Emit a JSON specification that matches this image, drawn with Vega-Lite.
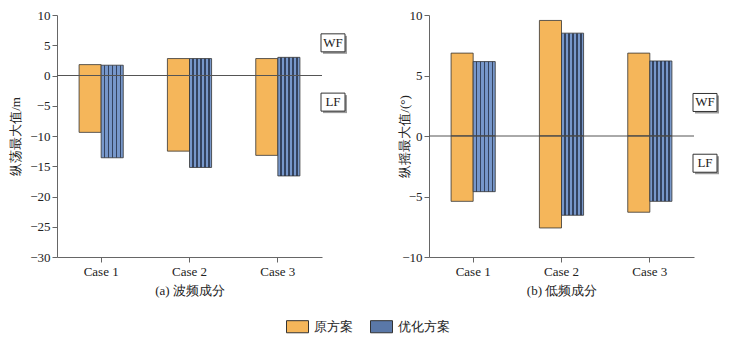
{
  "$schema": "https://vega.github.io/schema/vega-lite/v6.json",
  "padding": {"left": 9, "top": 9, "right": 5, "bottom": 5},
  "background": "white",
  "datasets": {
    "bars": [
      {"panel": "a", "case": "Case 1", "series": "原方案", "comp": "WF", "value": 1.8},
      {"panel": "a", "case": "Case 1", "series": "原方案", "comp": "LF", "value": -9.4},
      {"panel": "a", "case": "Case 1", "series": "优化方案", "comp": "WF", "value": 1.7},
      {"panel": "a", "case": "Case 1", "series": "优化方案", "comp": "LF", "value": -13.6},
      {"panel": "a", "case": "Case 2", "series": "原方案", "comp": "WF", "value": 2.8},
      {"panel": "a", "case": "Case 2", "series": "原方案", "comp": "LF", "value": -12.5},
      {"panel": "a", "case": "Case 2", "series": "优化方案", "comp": "WF", "value": 2.8},
      {"panel": "a", "case": "Case 2", "series": "优化方案", "comp": "LF", "value": -15.2},
      {"panel": "a", "case": "Case 3", "series": "原方案", "comp": "WF", "value": 2.8},
      {"panel": "a", "case": "Case 3", "series": "原方案", "comp": "LF", "value": -13.2},
      {"panel": "a", "case": "Case 3", "series": "优化方案", "comp": "WF", "value": 3.0},
      {"panel": "a", "case": "Case 3", "series": "优化方案", "comp": "LF", "value": -16.6},
      {"panel": "b", "case": "Case 1", "series": "原方案", "comp": "WF", "value": 6.85},
      {"panel": "b", "case": "Case 1", "series": "原方案", "comp": "LF", "value": -5.4},
      {"panel": "b", "case": "Case 1", "series": "优化方案", "comp": "WF", "value": 6.15},
      {"panel": "b", "case": "Case 1", "series": "优化方案", "comp": "LF", "value": -4.6},
      {"panel": "b", "case": "Case 2", "series": "原方案", "comp": "WF", "value": 9.55},
      {"panel": "b", "case": "Case 2", "series": "原方案", "comp": "LF", "value": -7.6},
      {"panel": "b", "case": "Case 2", "series": "优化方案", "comp": "WF", "value": 8.5},
      {"panel": "b", "case": "Case 2", "series": "优化方案", "comp": "LF", "value": -6.55},
      {"panel": "b", "case": "Case 3", "series": "原方案", "comp": "WF", "value": 6.85},
      {"panel": "b", "case": "Case 3", "series": "原方案", "comp": "LF", "value": -6.3},
      {"panel": "b", "case": "Case 3", "series": "优化方案", "comp": "WF", "value": 6.2},
      {"panel": "b", "case": "Case 3", "series": "优化方案", "comp": "LF", "value": -5.4}
    ]
  },
  "config": {
    "font": "Liberation Serif",
    "view": {"stroke": null},
    "concat": {"spacing": 51},
    "axis": {
      "labelFont": "Liberation Serif", "titleFont": "Liberation Serif",
      "labelFontSize": 13, "titleFontSize": 13, "titleFontWeight": "normal",
      "labelColor": "#222", "titleColor": "#222",
      "domainColor": "#666", "tickColor": "#666", "grid": false, "tickSize": 5
    },
    "legend": {
      "labelFont": "Liberation Serif", "labelFontSize": 13, "labelColor": "#222"
    }
  },
  "hconcat": [
    {
      "width": 265, "height": 242,
      "layer": [
        {
          "data": {"name": "bars"},
          "transform": [{"filter": "datum.panel == 'a'"}],
          "mark": {"type": "bar", "stroke": "#333", "strokeWidth": 0.8},
          "encoding": {
            "x": {"field": "case", "type": "nominal", "scale": {"paddingInner": 0.5, "paddingOuter": 0.25},
                  "axis": {"title": "(a) 波频成分", "labelAngle": 0, "labelPadding": 3, "titlePadding": 6}},
            "xOffset": {"field": "series", "type": "nominal", "sort": ["原方案", "优化方案"], "scale": {"paddingInner": 0, "paddingOuter": 0}},
            "y": {"field": "value", "type": "quantitative", "stack": null,
                  "scale": {"domain": [-30, 10], "nice": false},
                  "axis": {"title": "纵荡最大值/m", "values": [-30, -25, -20, -15, -10, -5, 0, 5, 10], "titlePadding": 7}},
            "color": {"field": "series", "type": "nominal",
                      "condition": {"test": "datum.series === '优化方案'", "value": {"gradient": "linear", "x1": 0, "y1": 0, "x2": 1, "y2": 0, "stops": [
                                  {"offset": 0, "color": "#7797CA"}, {"offset": 0.1127, "color": "#7797CA"}, {"offset": 0.1127, "color": "#34435F"}, {"offset": 0.1818, "color": "#34435F"},
                                  {"offset": 0.1818, "color": "#7797CA"}, {"offset": 0.2945, "color": "#7797CA"}, {"offset": 0.2945, "color": "#34435F"}, {"offset": 0.3636, "color": "#34435F"},
                                  {"offset": 0.3636, "color": "#7797CA"}, {"offset": 0.4764, "color": "#7797CA"}, {"offset": 0.4764, "color": "#34435F"}, {"offset": 0.5455, "color": "#34435F"},
                                  {"offset": 0.5455, "color": "#7797CA"}, {"offset": 0.6582, "color": "#7797CA"}, {"offset": 0.6582, "color": "#34435F"}, {"offset": 0.7273, "color": "#34435F"},
                                  {"offset": 0.7273, "color": "#7797CA"}, {"offset": 0.84, "color": "#7797CA"}, {"offset": 0.84, "color": "#34435F"}, {"offset": 0.9091, "color": "#34435F"},
                                  {"offset": 0.9091, "color": "#7797CA"}, {"offset": 1, "color": "#7797CA"}]}},
                      "scale": {"domain": ["原方案", "优化方案"], "range": ["#F5B65A", "#5A78A8"]},
                      "legend": {"title": null, "orient": "none", "legendX": 229, "legendY": 300, "direction": "horizontal",
                                 "symbolType": "M-1,-0.55H1V0.55H-1Z", "symbolSize": 484,
                                 "symbolStrokeColor": "#333", "symbolStrokeWidth": 1, "symbolOpacity": 1,
                                 "columnPadding": 15, "labelOffset": 5}}
          }
        },
        {
          "data": {"values": [{}]},
          "mark": {"type": "rule", "color": "#555", "strokeWidth": 1},
          "encoding": {"y": {"datum": 0, "type": "quantitative",
                             "axis": {"title": "纵荡最大值/m", "values": [-30, -25, -20, -15, -10, -5, 0, 5, 10], "titlePadding": 7}}}
        },
        {
          "data": {"values": [{"label": "WF", "v": 5.4}, {"label": "LF", "v": -4.4}]},
          "layer": [
            {"mark": {"type": "point", "shape": "M-1.2,-0.9H1.2V0.9H-1.2Z", "size": 400, "filled": true, "fill": "#9a9a9a", "strokeWidth": 0, "opacity": 1, "x": 276, "xOffset": 2, "yOffset": 2},
             "encoding": {"y": {"field": "v", "type": "quantitative", "axis": {"title": "纵荡最大值/m", "values": [-30, -25, -20, -15, -10, -5, 0, 5, 10], "titlePadding": 7}}}},
            {"mark": {"type": "point", "shape": "M-1.2,-0.9H1.2V0.9H-1.2Z", "size": 400, "filled": true, "fill": "white", "stroke": "#333", "strokeWidth": 1, "opacity": 1, "x": 276},
             "encoding": {"y": {"field": "v", "type": "quantitative", "axis": {"title": "纵荡最大值/m", "values": [-30, -25, -20, -15, -10, -5, 0, 5, 10], "titlePadding": 7}}}},
            {"mark": {"type": "text", "font": "Liberation Serif", "fontSize": 13, "color": "#222", "x": 276},
             "encoding": {"y": {"field": "v", "type": "quantitative", "axis": {"title": "纵荡最大值/m", "values": [-30, -25, -20, -15, -10, -5, 0, 5, 10], "titlePadding": 7}}, "text": {"field": "label"}}}
          ]
        }
      ]
    },
    {
      "width": 265, "height": 242,
      "layer": [
        {
          "data": {"name": "bars"},
          "transform": [{"filter": "datum.panel == 'b'"}],
          "mark": {"type": "bar", "stroke": "#333", "strokeWidth": 0.8},
          "encoding": {
            "x": {"field": "case", "type": "nominal", "scale": {"paddingInner": 0.5, "paddingOuter": 0.25},
                  "axis": {"title": "(b) 低频成分", "labelAngle": 0, "labelPadding": 3, "titlePadding": 6}},
            "xOffset": {"field": "series", "type": "nominal", "sort": ["原方案", "优化方案"], "scale": {"paddingInner": 0, "paddingOuter": 0}},
            "y": {"field": "value", "type": "quantitative", "stack": null,
                  "scale": {"domain": [-10, 10], "nice": false},
                  "axis": {"title": "纵摇最大值/(°)", "values": [-10, -5, 0, 5, 10], "titlePadding": -10}},
            "color": {"field": "series", "type": "nominal", "legend": null,
                      "condition": {"test": "datum.series === '优化方案'", "value": {"gradient": "linear", "x1": 0, "y1": 0, "x2": 1, "y2": 0, "stops": [
                                  {"offset": 0, "color": "#7797CA"}, {"offset": 0.1127, "color": "#7797CA"}, {"offset": 0.1127, "color": "#34435F"}, {"offset": 0.1818, "color": "#34435F"},
                                  {"offset": 0.1818, "color": "#7797CA"}, {"offset": 0.2945, "color": "#7797CA"}, {"offset": 0.2945, "color": "#34435F"}, {"offset": 0.3636, "color": "#34435F"},
                                  {"offset": 0.3636, "color": "#7797CA"}, {"offset": 0.4764, "color": "#7797CA"}, {"offset": 0.4764, "color": "#34435F"}, {"offset": 0.5455, "color": "#34435F"},
                                  {"offset": 0.5455, "color": "#7797CA"}, {"offset": 0.6582, "color": "#7797CA"}, {"offset": 0.6582, "color": "#34435F"}, {"offset": 0.7273, "color": "#34435F"},
                                  {"offset": 0.7273, "color": "#7797CA"}, {"offset": 0.84, "color": "#7797CA"}, {"offset": 0.84, "color": "#34435F"}, {"offset": 0.9091, "color": "#34435F"},
                                  {"offset": 0.9091, "color": "#7797CA"}, {"offset": 1, "color": "#7797CA"}]}}}
          }
        },
        {
          "data": {"values": [{}]},
          "mark": {"type": "rule", "color": "#555", "strokeWidth": 1},
          "encoding": {"y": {"datum": 0, "type": "quantitative",
                             "axis": {"title": "纵摇最大值/(°)", "values": [-10, -5, 0, 5, 10], "titlePadding": -10}}}
        },
        {
          "data": {"values": [{"label": "WF", "v": 2.77}, {"label": "LF", "v": -2.25}]},
          "layer": [
            {"mark": {"type": "point", "shape": "M-1.2,-0.9H1.2V0.9H-1.2Z", "size": 400, "filled": true, "fill": "#9a9a9a", "strokeWidth": 0, "opacity": 1, "x": 276, "xOffset": 2, "yOffset": 2},
             "encoding": {"y": {"field": "v", "type": "quantitative", "axis": {"title": "纵摇最大值/(°)", "values": [-10, -5, 0, 5, 10], "titlePadding": -10}}}},
            {"mark": {"type": "point", "shape": "M-1.2,-0.9H1.2V0.9H-1.2Z", "size": 400, "filled": true, "fill": "white", "stroke": "#333", "strokeWidth": 1, "opacity": 1, "x": 276},
             "encoding": {"y": {"field": "v", "type": "quantitative", "axis": {"title": "纵摇最大值/(°)", "values": [-10, -5, 0, 5, 10], "titlePadding": -10}}}},
            {"mark": {"type": "text", "font": "Liberation Serif", "fontSize": 13, "color": "#222", "x": 276},
             "encoding": {"y": {"field": "v", "type": "quantitative", "axis": {"title": "纵摇最大值/(°)", "values": [-10, -5, 0, 5, 10], "titlePadding": -10}}, "text": {"field": "label"}}}
          ]
        }
      ]
    }
  ]
}
